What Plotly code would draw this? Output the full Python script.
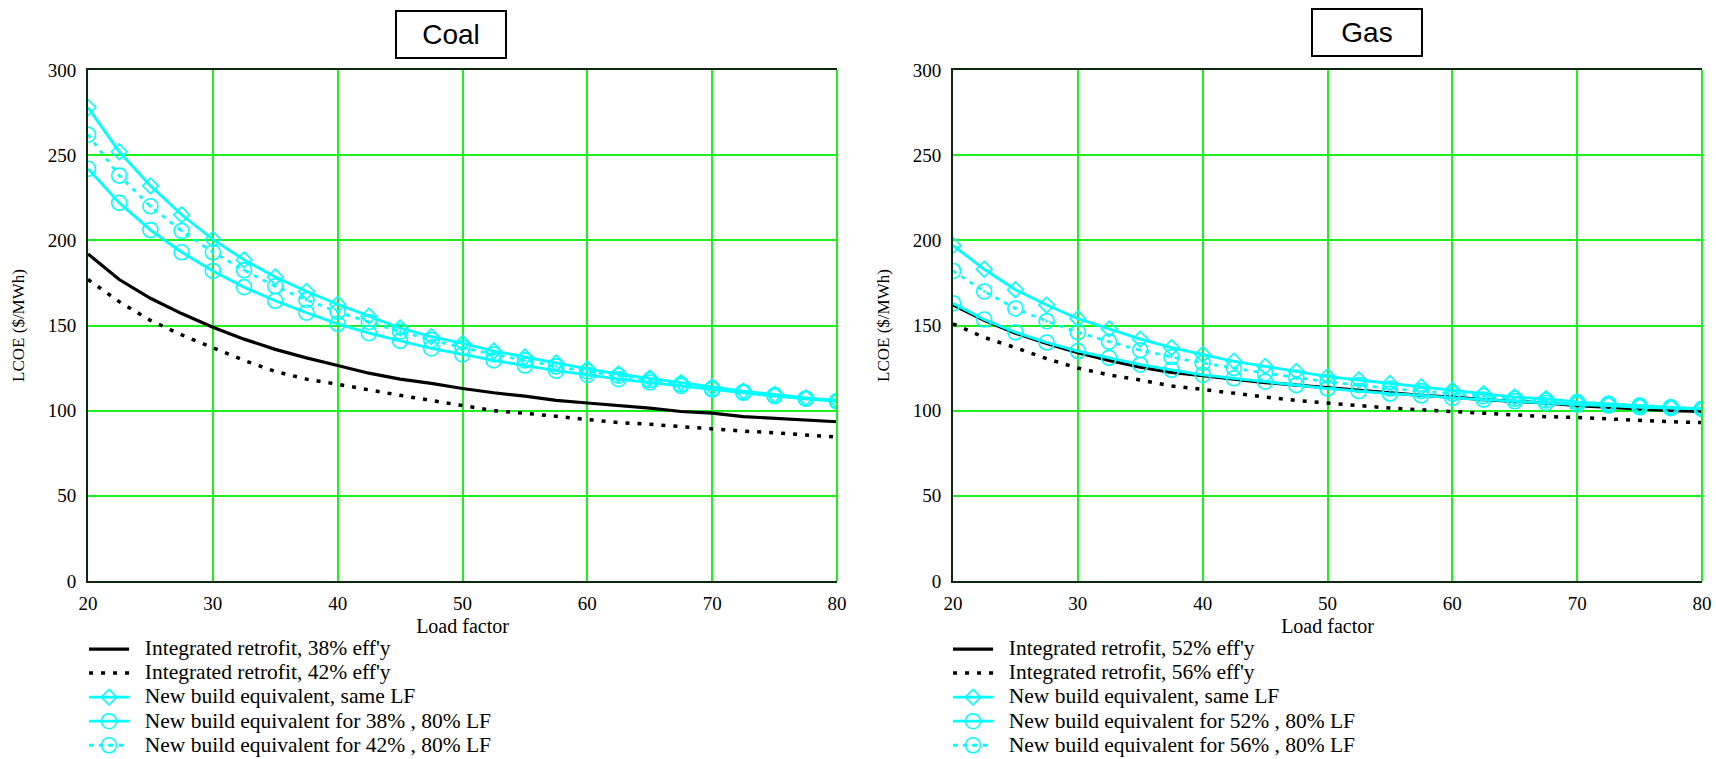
import plotly.graph_objects as go

# Load factor (%) at which each curve is evaluated
load_factor = [20, 22.5, 25, 27.5, 30, 32.5, 35, 37.5, 40, 42.5, 45, 47.5, 50,
               52.5, 55, 57.5, 60, 62.5, 65, 67.5, 70, 72.5, 75, 77.5, 80]

# Coal: LCOE ($/MWh)
coal_retrofit_38 = [192, 177, 166, 157, 149, 142, 136, 131, 126.5, 122, 118.5, 116, 113,
                    110.5, 108.5, 106, 104.5, 103, 101.5, 99.5, 98.5, 96.5, 95.5, 94.5, 93.5]
coal_retrofit_42 = [177, 164, 153, 144.5, 137, 129.5, 123, 118.5, 115.5, 112, 109, 106, 103,
                    100, 98.5, 96.5, 95, 93, 92, 90.5, 89.5, 88, 87, 86, 84.5]
coal_new_same_lf = [278, 252, 232, 215, 200.5, 188.5, 178.5, 170, 162.5, 155.5, 148.5, 143.5, 139.5,
                    135, 131.5, 128, 124.5, 121.5, 119, 116.5, 114, 111.5, 109.5, 107.5, 106]
coal_new_38_80 = [242, 222, 206, 193, 182, 172.5, 164.5, 157.5, 151, 145.5, 141, 136.5, 133,
                  129.5, 126.5, 123.5, 121, 118.5, 116.5, 114.5, 112.5, 110.5, 108.5, 107, 105.5]
coal_new_42_80 = [262, 238, 220, 205.5, 193, 182.5, 173, 165, 158, 152, 146.5, 141.5, 137,
                  133, 129.5, 126, 123, 120.5, 118, 115.5, 113, 111, 109, 107, 105.5]

# Gas: LCOE ($/MWh)
gas_retrofit_52 = [162, 153, 145.5, 139.5, 134, 129.5, 125.5, 122.5, 120.5, 118.5, 116.5, 115, 113.5,
                   112, 110.5, 109, 108, 106.5, 105.5, 104.5, 103, 102, 101, 100, 99.5]
gas_retrofit_56 = [151, 143, 137, 130.5, 125, 121, 118, 114.5, 112.5, 110, 108, 106, 104.5,
                   102.5, 101.5, 100.5, 99.5, 98.5, 97.5, 96.5, 96, 95, 94, 93.5, 93]
gas_new_same_lf = [197, 183, 171, 162, 154, 148, 142, 137, 133, 129, 126, 123, 120,
                   118, 116, 114, 112, 110, 108, 107, 105, 104, 103, 102, 101]
gas_new_52_80 = [163, 153.5, 146, 140, 135, 131, 127, 124, 121, 119, 117, 115, 113,
                 111.5, 110, 109, 107.5, 106.5, 105.5, 104.5, 103.5, 103, 102, 101.5, 101]
gas_new_56_80 = [182, 170, 160, 152.5, 146, 140.5, 135.5, 131.5, 128, 125, 122, 119.5, 117,
                 115, 113, 111.5, 110, 108.5, 107, 106, 105, 104, 103, 102, 101]

coal_names = ["Integrated retrofit, 38% eff'y", "Integrated retrofit, 42% eff'y",
              "New build equivalent, same LF", "New build equivalent for 38% , 80% LF",
              "New build equivalent for 42% , 80% LF"]
gas_names = ["Integrated retrofit, 52% eff'y", "Integrated retrofit, 56% eff'y",
             "New build equivalent, same LF", "New build equivalent for 52% , 80% LF",
             "New build equivalent for 56% , 80% LF"]

x_ticks = [20, 30, 40, 50, 60, 70, 80]
y_ticks = [0, 50, 100, 150, 200, 250, 300]

W, H = 1716, 759
CYAN = "#00FFFF"
GRID = "#1EF01E"
FRAME = "#0B2A0B"
SERIF = "Liberation Serif"
SANS = "Liberation Sans"

fig = go.Figure()


def label(text):
    return '<span style="font-size:21.5px">&nbsp;&nbsp;' + text + "</span>"


def add_panel(series, names, xa, ya, legend):
    styles = [
        dict(mode="lines", line=dict(color="black", width=3.2)),
        dict(mode="lines", line=dict(color="black", width=3.5, dash="4px,8px")),
        dict(mode="lines+markers", line=dict(color=CYAN, width=2.8),
             marker=dict(symbol="diamond-open", size=12, color=CYAN, line=dict(width=1.6, color=CYAN))),
        dict(mode="lines+markers", line=dict(color=CYAN, width=2.8),
             marker=dict(symbol="circle-open", size=15, color=CYAN, line=dict(width=1.6, color=CYAN))),
        dict(mode="lines+markers", line=dict(color=CYAN, width=2.8, dash="4px,6px"),
             marker=dict(symbol="circle-open-dot", size=15, color=CYAN, line=dict(width=1.6, color=CYAN))),
    ]
    for ys, name, st in zip(series, names, styles):
        fig.add_trace(go.Scatter(x=load_factor, y=ys, name=label(name), xaxis=xa, yaxis=ya,
                                 legend=legend, **st))


add_panel([coal_retrofit_38, coal_retrofit_42, coal_new_same_lf, coal_new_38_80, coal_new_42_80],
          coal_names, "x", "y", "legend")
add_panel([gas_retrofit_52, gas_retrofit_56, gas_new_same_lf, gas_new_52_80, gas_new_56_80],
          gas_names, "x2", "y2", "legend2")

y_dom = [1 - 581 / H, 1 - 70 / H]
panels = {"": [88 / W, 837 / W], "2": [953 / W, 1702 / W]}

axis_common = dict(showgrid=True, gridcolor=GRID, gridwidth=1.6, zeroline=False,
                   showline=True, linecolor=FRAME, linewidth=2, ticks="",
                   tickfont=dict(family=SERIF, size=19, color="black"))

layout_axes = {}
for suffix, dom in panels.items():
    anchor_y = "y" + suffix
    anchor_x = "x" + suffix
    layout_axes["xaxis" + suffix] = dict(
        axis_common, domain=dom, anchor=anchor_y, range=[20, 80], tickvals=x_ticks,
        mirror=True, ticklabelstandoff=4,
        title=dict(text="Load factor", font=dict(family=SERIF, size=20, color="black"), standoff=6))
    layout_axes["yaxis" + suffix] = dict(
        axis_common, domain=y_dom, anchor=anchor_x, range=[0, 300], tickvals=y_ticks,
        ticklabelstandoff=6,
        title=dict(text="LCOE ($/MWh)", font=dict(family=SERIF, size=17, color="black"), standoff=19))

legend_common = dict(font=dict(family=SERIF, size=16.2, color="black"), bgcolor="rgba(0,0,0,0)",
                     xanchor="left", yanchor="top", y=1 - 632 / H, itemwidth=40,
                     tracegroupgap=0, itemclick=False)

fig.update_layout(
    width=W, height=H,
    margin=dict(l=0, r=0, t=0, b=0, autoexpand=False),
    paper_bgcolor="white", plot_bgcolor="white",
    showlegend=True,
    legend=dict(legend_common, x=84 / W),
    legend2=dict(legend_common, x=948 / W),
    **layout_axes,
)

# right-hand edge of each frame is drawn in the grid colour
for xa, ya in [("x", "y"), ("x2", "y2")]:
    fig.add_shape(type="line", xref=xa + " domain", yref=ya + " domain", x0=1, x1=1, y0=0, y1=1,
                  line=dict(color=GRID, width=2))

# boxed panel titles
for text, cx, cy in [("Coal", 451 / W, 1 - 34 / H), ("Gas", 1367 / W, 1 - 33 / H)]:
    fig.add_annotation(text=text, xref="paper", yref="paper", x=cx, y=cy,
                       xanchor="center", yanchor="middle",
                       showarrow=False, font=dict(family=SANS, size=28, color="black"),
                       width=106, height=43, borderpad=1, bordercolor="black", borderwidth=2,
                       bgcolor="white")

fig.write_html("out.html")
